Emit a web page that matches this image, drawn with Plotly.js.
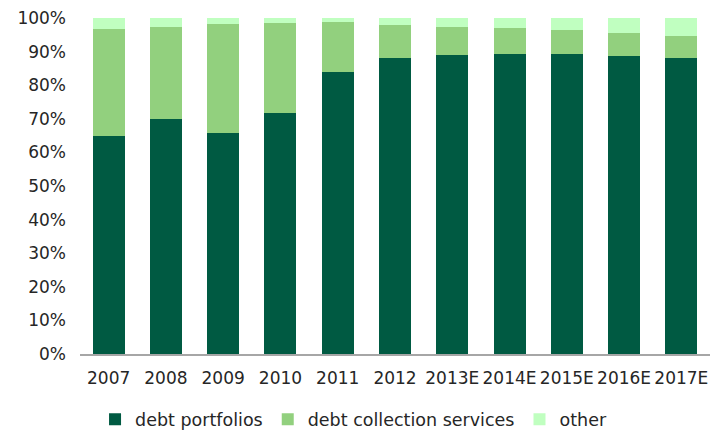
<!DOCTYPE html>
<html>
<head>
<meta charset="utf-8">
<script src="https://cdn.plot.ly/plotly-3.0.1.min.js"></script>
<style>html,body{margin:0;padding:0;background:#fff;}#chart{width:720px;height:430px;}</style>
</head>
<body>
<div id="chart"></div>
<script>
var years = ["2007","2008","2009","2010","2011","2012","2013E","2014E","2015E","2016E","2017E"];
var debtPortfolios = [65.0, 69.8, 65.8, 71.8, 84.0, 88.2, 89.1, 89.4, 89.3, 88.8, 88.2];
var debtCollection = [31.7, 27.6, 32.5, 26.8, 14.9, 9.6, 8.3, 7.5, 7.1, 6.8, 6.5];
var other = [3.3, 2.6, 1.7, 1.4, 1.1, 2.2, 2.6, 3.1, 3.6, 4.4, 5.3];
var yTicks = [0,10,20,30,40,50,60,70,80,90,100];
var yTickLabels = ["0%","10%","20%","30%","40%","50%","60%","70%","80%","90%","100%"];

var font = "'DejaVu Sans', sans-serif";
var data = [
  {type:"bar", name:"debt portfolios", x:years, y:debtPortfolios, marker:{color:"#005A42"}},
  {type:"bar", name:"debt collection services", x:years, y:debtCollection, marker:{color:"#92D07E"}},
  {type:"bar", name:"other", x:years, y:other, marker:{color:"#C0FFC0"}}
];
var layout = {
  barmode:"stack",
  bargap:0.44,
  width:720, height:430,
  margin:{l:80, r:10, t:18, b:76, autoexpand:false},
  paper_bgcolor:"#fff", plot_bgcolor:"#fff",
  font:{family:font, size:17.5, color:"#262626"},
  showlegend:true,
  legend:{orientation:"h", xref:"container", x:0.132, xanchor:"left", yref:"container", y:0.025, yanchor:"middle", font:{size:17.5}, traceorder:"normal", tracegroupgap:0},
  xaxis:{type:"category", showgrid:false, showline:true, linecolor:"#A6A6A6", linewidth:2, ticks:"", tickangle:0, ticklabelstandoff:8, tickfont:{size:17}},
  yaxis:{range:[0,100], tickvals:yTicks, ticktext:yTickLabels, showgrid:false, zeroline:false, showline:false, ticks:"", ticklen:0, ticklabelstandoff:13, tickfont:{size:17}}
};
Plotly.newPlot("chart", data, layout, {displayModeBar:false, staticPlot:true});
</script>
</body>
</html>
